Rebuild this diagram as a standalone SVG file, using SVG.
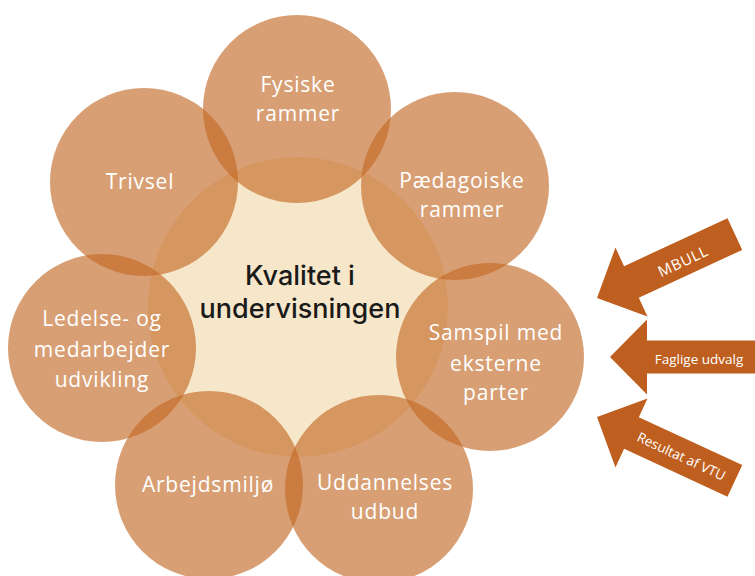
<svg xmlns="http://www.w3.org/2000/svg" width="755" height="576" viewBox="0 0 755 576">
  <style>
    .petal { fill: #C16723; fill-opacity: 0.63; }
    .core { fill: #F7E7CA; }
    .lbl { font-family: "Open Sans", Lato, "Liberation Sans", sans-serif; font-size: 21px; letter-spacing: 0.8px; fill: #FFFFFF; text-anchor: middle; }
    .center { font-family: Inter, Roboto, "Open Sans", "Liberation Sans", sans-serif; font-size: 27px; font-weight: 500; fill: #1A1A1A; text-anchor: middle; }
    .arrow { fill: #BF5F1F; }
    .alb { font-family: "Open Sans", Lato, "Liberation Sans", sans-serif; font-size: 13.5px; fill: #FFFFFF; text-anchor: middle; }
  </style>
  <defs>
    <path id="arrowShape" d="M0,0 L38,-38 L38,-17.5 L152,-17.5 L152,17.5 L38,17.5 L38,38 Z"/>
  </defs>
  <rect width="755" height="576" fill="#FFFFFF"/>

  <g id="kvalitet-core">
    <circle class="core" cx="298" cy="307" r="150"/>
  </g>

  <g id="fysiske-rammer">
    <circle class="petal" cx="297" cy="109" r="94"/>
    <text class="lbl" x="298" y="92">Fysiske</text>
    <text class="lbl" x="298" y="121">rammer</text>
  </g>
  <g id="paedagoiske-rammer">
    <circle class="petal" cx="455" cy="186" r="94"/>
    <text class="lbl" x="462" y="188">Pædagoiske</text>
    <text class="lbl" x="462" y="217">rammer</text>
  </g>
  <g id="samspil">
    <circle class="petal" cx="490" cy="357" r="94"/>
    <text class="lbl" x="496" y="340">Samspil med</text>
    <text class="lbl" x="496" y="371">eksterne</text>
    <text class="lbl" x="496" y="400">parter</text>
  </g>
  <g id="uddannelses-udbud">
    <circle class="petal" cx="379" cy="489" r="94"/>
    <text class="lbl" x="385" y="490">Uddannelses</text>
    <text class="lbl" x="385" y="519">udbud</text>
  </g>
  <g id="arbejdsmiljo">
    <circle class="petal" cx="209" cy="485" r="94"/>
    <text class="lbl" x="208" y="492">Arbejdsmiljø</text>
  </g>
  <g id="ledelse">
    <circle class="petal" cx="102" cy="348" r="94"/>
    <text class="lbl" x="102" y="326">Ledelse- og</text>
    <text class="lbl" x="102" y="357">medarbejder</text>
    <text class="lbl" x="102" y="387">udvikling</text>
  </g>
  <g id="trivsel">
    <circle class="petal" cx="144" cy="182" r="94"/>
    <text class="lbl" x="140" y="189">Trivsel</text>
  </g>

  <g id="kvalitet-label">
    <text class="center" x="300" y="285">Kvalitet i</text>
    <text class="center" x="300" y="318">undervisningen</text>
  </g>

  <g id="connectors">
    <g id="arrow-mbull" transform="translate(597,298) rotate(-24.9)">
      <use href="#arrowShape" class="arrow"/>
    </g>
    <g id="arrow-faglige" transform="translate(610,357)">
      <path class="arrow" d="M0,0 L37,-37.5 L37,-16.5 L150,-16.5 L150,16.5 L37,16.5 L37,37.5 Z"/>
      <text class="alb" x="89" y="7">Faglige udvalg</text>
    </g>
    <g id="arrow-vtu" transform="translate(597,417) rotate(24.9)">
      <use href="#arrowShape" class="arrow"/>
      <text class="alb" x="93" y="5">Resultat af VTU</text>
    </g>
    <text class="alb" x="0" y="5.5" style="font-size:15px;letter-spacing:0.8px" transform="translate(683,261) rotate(-24.9)">MBULL</text>
  </g>
</svg>
